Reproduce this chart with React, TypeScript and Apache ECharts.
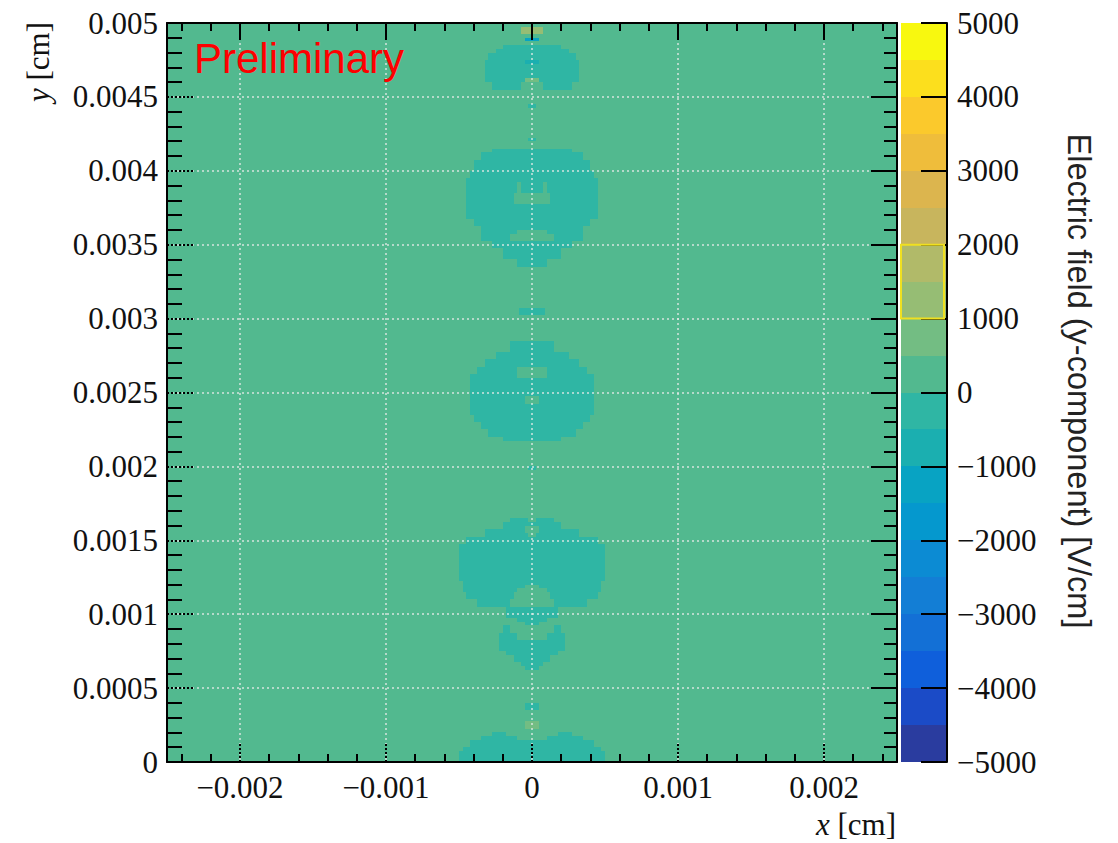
import React, { useEffect, useRef } from 'react';
import * as echarts from 'echarts';

// ---------- axes ----------
const xRange = [-0.0025, 0.0025];
const yRange = [0, 0.005];
const xMajorTicks = [-0.002, -0.001, 0, 0.001, 0.002];
const xMinorTicks = [
  -0.0024, -0.0022, -0.0018, -0.0016, -0.0014, -0.0012, -0.0008, -0.0006, -0.0004, -0.0002,
  0.0002, 0.0004, 0.0006, 0.0008, 0.0012, 0.0014, 0.0016, 0.0018, 0.0022, 0.0024,
];
const yTickStep = 0.0005;
const zRange = [-5000, 5000];
const zTickStep = 1000;

// ---------- colour palette (bottom to top) ----------
const levelEdges = [
  -5000, -4500, -4000, -3500, -3000, -2500, -2000, -1500, -1000, -500, 0,
  500, 1000, 1500, 2000, 2500, 3000, 3500, 4000, 4500, 5000,
];
const levelColors = [
  '#2A3C9F', '#1B4BC7', '#0F5FDB', '#1370D6', '#137ED5', '#0C8BD3', '#0598CE', '#08A3C3', '#1BAFB0', '#2FB6A4',
  '#52B98F', '#73BD83', '#96BD74', '#B1BA69', '#C8B55D', '#DCB54E', '#EFBD3B', '#FBC92C', '#FCDF1D', '#F8F80F',
];

// ---------- field map ----------
// whole plane value (V/cm)
const backgroundValue = 250;
// rows: [y0, y1, |x| inner, |x| outer, E_y]  (lengths in 1e-4 cm, symmetric about x = 0)
const blobTop = [
  [49.25, 49.75, 0, 0.75, 1200],
  [48.75, 49.0, 0, 0.5, -1200],
  [48.25, 48.5, 0, 2.0, -250],
  [48.0, 48.25, 0, 2.5, -250],
  [47.5, 48.0, 0, 3.0, -250],
  [46.0, 47.5, 0, 3.25, -250],
  [45.5, 46.0, 0.75, 2.75, -250],
  [47.25, 47.5, 0, 0.5, -700],
  [46.0, 46.25, 0, 0.5, 700],
  [44.25, 44.5, 0, 0.25, -250],
  [42.0, 42.25, 0, 0.25, -250],
];
const blobSecond = [
  [41.25, 41.5, 0, 2.75, -250],
  [40.75, 41.25, 0, 3.5, -250],
  [40.0, 40.75, 0, 4.0, -250],
  [39.5, 40.0, 0, 4.25, -250],
  [36.75, 39.5, 0, 4.5, -250],
  [36.25, 36.75, 0, 4.0, -250],
  [35.25, 36.25, 0, 3.5, -250],
  [34.75, 35.25, 0, 2.75, -250],
  [34.0, 34.75, 0, 2.0, -250],
  [33.5, 34.0, 0, 1.0, -250],
  [38.5, 39.25, 0.75, 1.0, 250],
  [37.75, 38.5, 0, 1.25, 250],
  [35.75, 36.0, 0, 1.0, 250],
  [35.25, 35.75, 0, 1.5, 250],
];
const blobThird = [
  [30.25, 30.75, 0, 0.9, -250],
  [27.75, 28.5, 0, 1.5, -250],
  [27.25, 27.75, 0, 2.5, -250],
  [26.75, 27.25, 0, 3.25, -250],
  [26.25, 26.75, 0, 3.75, -250],
  [23.5, 26.25, 0, 4.25, -250],
  [23.0, 23.5, 0, 4.0, -250],
  [22.5, 23.0, 0, 3.5, -250],
  [22.0, 22.5, 0, 3.0, -250],
  [21.75, 22.0, 0, 2.0, -250],
  [26.0, 26.75, 0, 1.0, 250],
  [24.25, 24.75, 0, 0.5, 250],
  [19.75, 20.0, 0, 0.25, -250],
];
const blobFourth = [
  [16.25, 16.5, 0.25, 1.5, -250],
  [15.75, 16.25, 0, 2.0, -250],
  [15.25, 15.75, 0, 3.25, -250],
  [14.75, 15.25, 0, 4.5, -250],
  [12.25, 14.75, 0, 5.0, -250],
  [11.5, 12.25, 0, 4.75, -250],
  [11.0, 11.5, 1.25, 4.5, -250],
  [10.5, 11.0, 1.5, 3.75, -250],
  [9.75, 10.5, 0, 1.75, -250],
  [9.5, 9.75, 0, 1.0, -250],
  [9.25, 9.5, 0, 0.5, -250],
  [15.5, 16.0, 0, 0.5, 250],
  [15.25, 15.5, 0, 0.25, 250],
  [11.75, 12.0, 0, 0.5, 250],
  [11.5, 11.75, 0, 1.0, 250],
];
const blobFifth = [
  [8.75, 9.25, 1.5, 2.0, -250],
  [8.25, 8.75, 1.0, 2.25, -250],
  [7.5, 8.25, 0, 2.25, -250],
  [7.25, 7.5, 0, 1.75, -250],
  [6.75, 7.25, 0, 1.25, -250],
  [6.5, 6.75, 0, 0.75, -250],
  [6.25, 6.5, 0, 0.5, -250],
  [3.5, 4.0, 0, 0.5, -250],
  [2.25, 2.75, 0, 0.5, 700],
];
const blobBottom = [
  [1.75, 2.0, 1.75, 2.75, -250],
  [1.5, 1.75, 1.0, 3.5, -250],
  [1.0, 1.5, 0, 4.25, -250],
  [0.75, 1.0, 0, 4.75, -250],
  [0, 0.75, 0, 5.0, -250],
];

const UNIT = 1e-4;
function rowsToCells(rows: number[][]): number[][] {
  const out: number[][] = [];
  for (const [y0, y1, inner, outer, v] of rows) {
    if (inner === 0) {
      out.push([-outer * UNIT, outer * UNIT, y0 * UNIT, y1 * UNIT, v]);
    } else {
      out.push([-outer * UNIT, -inner * UNIT, y0 * UNIT, y1 * UNIT, v]);
      out.push([inner * UNIT, outer * UNIT, y0 * UNIT, y1 * UNIT, v]);
    }
  }
  return out;
}

function colorOf(v: number): string {
  for (let i = 0; i < levelColors.length; i++) {
    if (v >= levelEdges[i] && v < levelEdges[i + 1]) return levelColors[i];
  }
  return v < levelEdges[0] ? levelColors[0] : levelColors[levelColors.length - 1];
}

const serif = '"Liberation Serif", "Times New Roman", serif';
const sans = '"Liberation Sans", Arial, sans-serif';
const minus = (s: string) => s.replace('-', '\u2212');

export default function App() {
  const ref = useRef<HTMLDivElement>(null);

  useEffect(() => {
    if (!ref.current) return;
    const chart = echarts.init(ref.current, undefined, { renderer: 'svg' });

    const mapData = [
      [xRange[0], xRange[1], yRange[0], yRange[1], backgroundValue],
      ...rowsToCells(blobTop),
      ...rowsToCells(blobSecond),
      ...rowsToCells(blobThird),
      ...rowsToCells(blobFourth),
      ...rowsToCells(blobFifth),
      ...rowsToCells(blobBottom),
    ];
    const barData = levelColors.map((_, i) => [0, 1, levelEdges[i], levelEdges[i + 1], (levelEdges[i] + levelEdges[i + 1]) / 2]);

    const renderCell = (_params: any, api: any) => {
      const a = api.coord([api.value(0), api.value(3)]);
      const b = api.coord([api.value(1), api.value(2)]);
      const x = Math.round(a[0]);
      const y = Math.round(a[1]);
      return {
        type: 'rect',
        shape: { x, y, width: Math.round(b[0]) - x, height: Math.round(b[1]) - y },
        style: { fill: colorOf(api.value(4)) },
      };
    };

    const black = { color: '#000', width: 2 };
    const gridLine = { color: 'rgba(236,236,236,0.85)', width: 1.5, type: [2, 3] as any };
    const labelStyle = { fontFamily: serif, fontSize: 31, color: '#111' };

    chart.setOption({
      animation: false,
      backgroundColor: '#fff',
      grid: [
        { left: 167, top: 23, width: 730, height: 739 },
        { left: 167, top: 23, width: 730, height: 739 },
        { left: 901, top: 23, width: 46, height: 739 },
      ],
      xAxis: [
        {
          type: 'value', gridIndex: 0, position: 'bottom', min: xRange[0], max: xRange[1], z: 10,
          axisLine: { show: true, onZero: false, lineStyle: black },
          axisTick: { show: true, inside: true, length: 18, customValues: xMajorTicks, lineStyle: { ...black, type: 'dotted' } },
          axisLabel: {
            ...labelStyle, margin: 10, customValues: xMajorTicks,
            formatter: (v: number) => (v === 0 ? '0' : minus(String(+v.toFixed(4)))),
          },
          splitLine: { show: true, lineStyle: gridLine },
        },
        {
          type: 'value', gridIndex: 0, position: 'top', min: xRange[0], max: xRange[1], z: 10,
          axisLine: { show: true, onZero: false, lineStyle: black },
          axisTick: { show: true, inside: true, length: 17, customValues: xMajorTicks, lineStyle: black },
          axisLabel: { show: false },
          splitLine: { show: false },
        },
        {
          type: 'value', gridIndex: 1, position: 'bottom', min: xRange[0], max: xRange[1], z: 10,
          axisLine: { show: false, onZero: false },
          axisTick: { show: true, inside: true, length: 8, customValues: xMinorTicks, lineStyle: black },
          axisLabel: { show: false },
          splitLine: { show: false },
        },
        {
          type: 'value', gridIndex: 1, position: 'top', min: xRange[0], max: xRange[1], z: 10,
          axisLine: { show: false, onZero: false },
          axisTick: { show: true, inside: true, length: 8, customValues: xMinorTicks, lineStyle: black },
          axisLabel: { show: false },
          splitLine: { show: false },
        },
        { type: 'value', gridIndex: 2, min: 0, max: 1, show: false },
      ],
      yAxis: [
        {
          type: 'value', gridIndex: 0, position: 'left', min: yRange[0], max: yRange[1], interval: yTickStep, z: 10,
          axisLine: { show: true, onZero: false, lineStyle: black },
          axisTick: { show: true, inside: true, length: 26, lineStyle: { ...black, type: 'dotted' } },
          minorTick: { show: true, splitNumber: 5, length: 15, lineStyle: black },
          axisLabel: { ...labelStyle, margin: 9, formatter: (v: number) => (v === 0 ? '0' : String(+v.toFixed(4))) },
          splitLine: { show: true, lineStyle: gridLine },
        },
        {
          type: 'value', gridIndex: 0, position: 'right', min: yRange[0], max: yRange[1], interval: yTickStep, z: 10,
          axisLine: { show: true, onZero: false, lineStyle: black },
          axisTick: { show: true, inside: true, length: 26, lineStyle: black },
          minorTick: { show: true, splitNumber: 5, length: 13, lineStyle: black },
          axisLabel: { show: false },
          splitLine: { show: false },
        },
        { type: 'value', gridIndex: 1, min: 0, max: 1, show: false },
        {
          type: 'value', gridIndex: 2, position: 'right', min: zRange[0], max: zRange[1], interval: zTickStep, z: 10,
          axisLine: { show: true, onZero: false, lineStyle: black },
          axisTick: { show: true, inside: true, length: 26, lineStyle: black },
          axisLabel: { ...labelStyle, margin: 10, formatter: (v: number) => minus(String(v)) },
          splitLine: { show: false },
        },
      ],
      series: [
        {
          type: 'custom', coordinateSystem: 'cartesian2d', xAxisIndex: 0, yAxisIndex: 0,
          encode: { x: [0, 1], y: [2, 3] }, data: mapData, renderItem: renderCell, silent: true, z: 2,
        },
        {
          type: 'custom', coordinateSystem: 'cartesian2d', xAxisIndex: 4, yAxisIndex: 3,
          encode: { x: [0, 1], y: [2, 3] }, data: barData, renderItem: renderCell, silent: true, z: 2,
        },
      ],
    });

    const pTop = chart.convertToPixel({ yAxisIndex: 3 }, 2000) as number;
    const pBot = chart.convertToPixel({ yAxisIndex: 3 }, 1000) as number;

    chart.setOption({
      graphic: [
        {
          type: 'text', x: 38, y: 22, rotation: Math.PI / 2, z: 20,
          style: {
            text: '{i|y}{r| [cm]}', align: 'right', verticalAlign: 'middle',
            rich: {
              i: { fontFamily: serif, fontSize: 31, fontStyle: 'italic', fill: '#111' },
              r: { fontFamily: serif, fontSize: 31, fill: '#111' },
            },
          },
        },
        {
          type: 'text', x: 896, y: 824, z: 20,
          style: {
            text: '{i|x}{r| [cm]}', align: 'right', verticalAlign: 'middle',
            rich: {
              i: { fontFamily: serif, fontSize: 31, fontStyle: 'italic', fill: '#111' },
              r: { fontFamily: serif, fontSize: 31, fill: '#111' },
            },
          },
        },
        {
          type: 'text', x: 1079, y: 381, rotation: -Math.PI / 2, z: 20,
          style: {
            text: 'Electric field (y-component) [V/cm]', fontFamily: sans, fontSize: 32.5, fill: '#222',
            align: 'center', verticalAlign: 'middle',
          },
        },
        {
          type: 'text', x: 194, y: 58, z: 20,
          style: { text: 'Preliminary', fontFamily: sans, fontSize: 42, fill: '#ff0000', align: 'left', verticalAlign: 'middle' },
        },
        {
          type: 'rect', z: 20,
          shape: { x: 901, y: pTop, width: 43, height: pBot - pTop },
          style: { fill: 'none', stroke: '#f0e020', lineWidth: 2 },
        },
      ],
    });

    return () => chart.dispose();
  }, []);

  return <div ref={ref} style={{ position: 'absolute', left: 0, top: 0, width: 1118, height: 843 }} />;
}
